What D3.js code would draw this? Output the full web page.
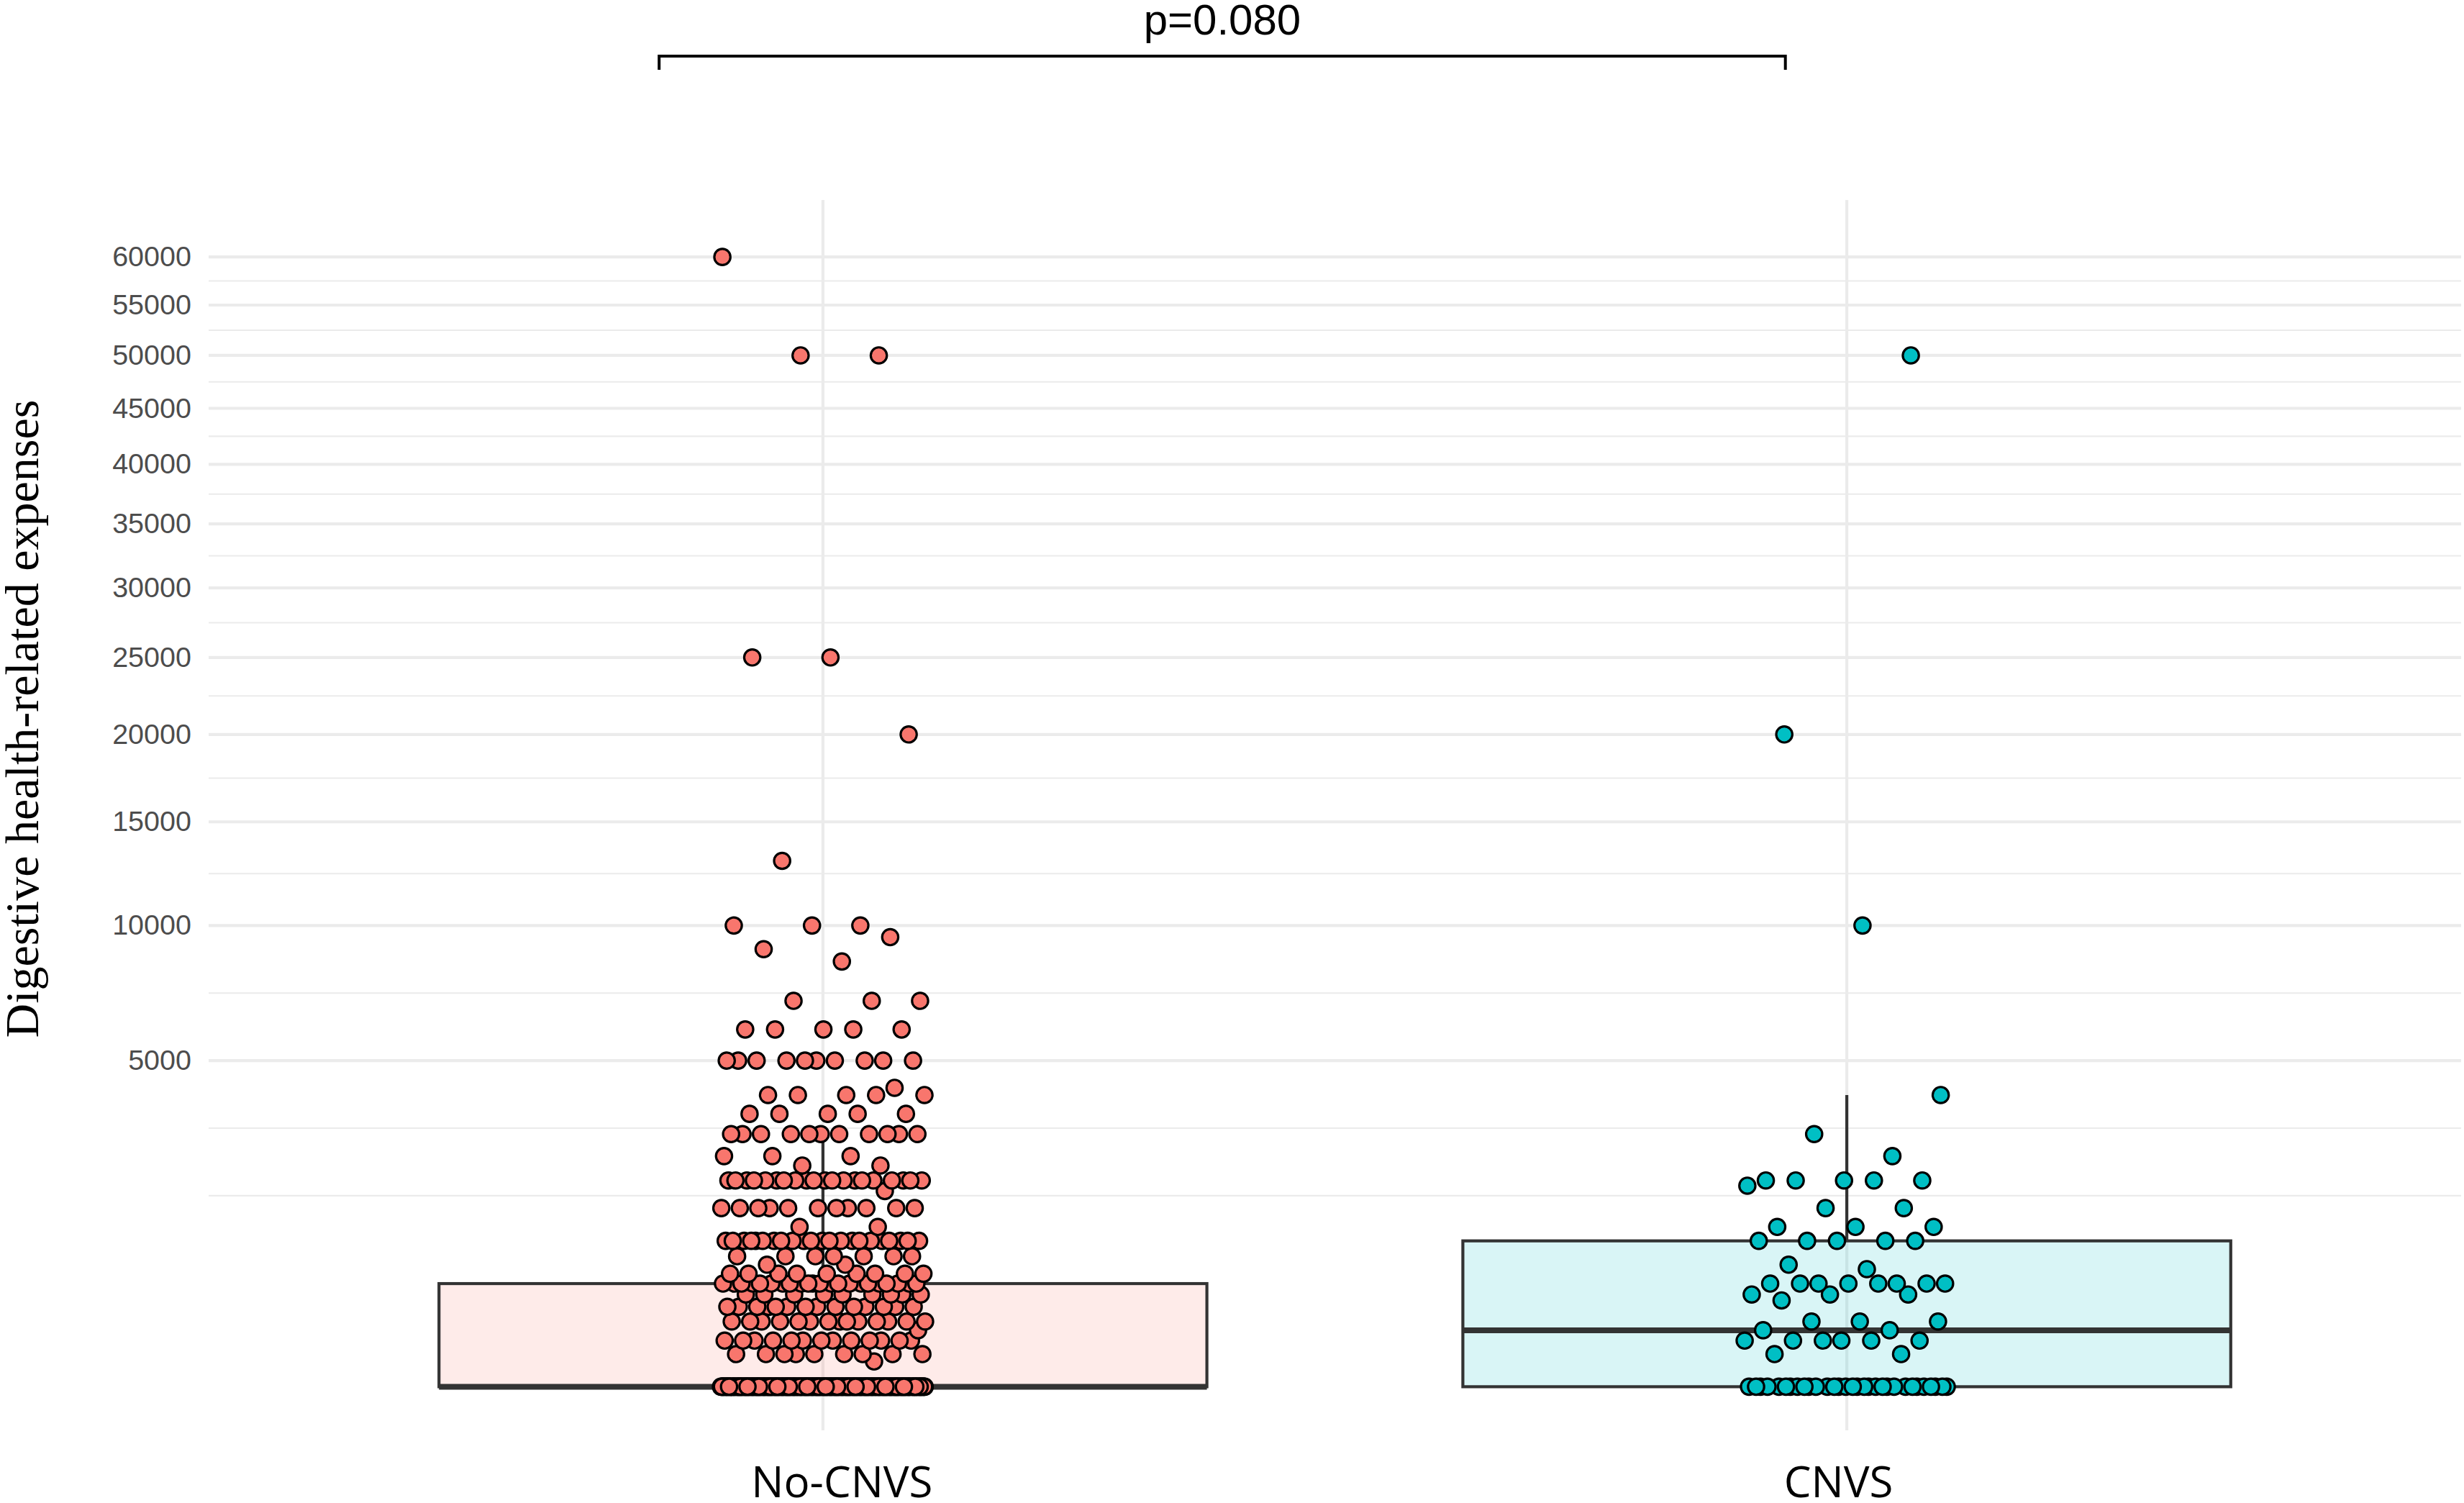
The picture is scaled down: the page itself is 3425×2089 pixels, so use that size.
<!DOCTYPE html>
<html>
<head>
<meta charset="utf-8">
<script src="https://cdn.jsdelivr.net/npm/d3@7"></script>
<style>
  body { margin: 0; background: #fff; }
  svg { display: block; }
</style>
</head>
<body>
<svg id="chart"></svg>
<script>
// Groups and colours
const groups = ["No-CNVS", "CNVS"];
const groupColors = ["#F8766D", "#00BFC4"];

// No-CNVS: expense levels read off the picture, and how many points sit on each
const noCnvsLevels = [0, 30, 50, 100, 150, 200, 300, 400, 500, 600,
    700, 800, 1000, 1200, 1500, 1800, 2000, 2300, 2500, 3000,
    3500, 4000, 4200, 5000, 6000, 7000, 8500, 9000, 9500, 10000,
    13000, 20000, 25000, 50000, 60000];
const noCnvsCounts = [340, 1, 9, 13, 1, 14, 14, 9, 22, 9,
    2, 7, 22, 2, 11, 1, 20, 2, 3, 11,
    5, 5, 1, 10, 5, 3, 1, 1, 1, 3,
    1, 1, 2, 2, 1];

// CNVS
const cnvsLevels = [0, 50, 100, 150, 200, 350, 400, 500, 650, 700,
    1000, 1200, 1500, 1900, 2000, 2500, 3000, 4000, 10000, 20000, 50000];
const cnvsCounts = [31, 2, 6, 2, 3, 1, 3, 8, 1, 1,
    5, 3, 2, 1, 5, 1, 1, 1, 1, 1, 1];

// Axis ticks and annotation
const yTicks = [5000, 10000, 15000, 20000, 25000, 30000, 35000, 40000, 45000, 50000, 55000, 60000];
const yTitle = "Digestive health-related expenses";
const pLabel = "p=0.080";
const bracketEnds = [0.84, 1.94]; // category units, 1 = No-CNVS, 2 = CNVS

// Sizes
const W = 3425, H = 2089;
const panel = { left: 290, right: 3421, top: 278, bottom: 1988 };

const svg = d3.select("#chart")
    .attr("width", W)
    .attr("height", H);

svg.append("rect").attr("width", W).attr("height", H).attr("fill", "#fff");

// Scales: discrete groups at 1 and 2 with 0.6 padding, sqrt y axis
const x = d3.scaleLinear()
    .domain([0.4, 2.6])
    .range([panel.left, panel.right]);

const sMax = Math.sqrt(d3.max(noCnvsLevels.concat(cnvsLevels)));
const padLow = 0.0386 * sMax, padHigh = 0.0504 * sMax;
const y = d3.scaleSqrt()
    .domain([-padLow * padLow, (sMax + padHigh) * (sMax + padHigh)])
    .range([panel.bottom, panel.top]);

// Expand level/count arrays into points
function expand(levels, counts, gi) {
    const pts = [];
    levels.forEach((v, i) => {
        for (let k = 0; k < counts[i]; k++) pts.push({ group: gi, value: v });
    });
    return pts;
}
const points = expand(noCnvsLevels, noCnvsCounts, 0)
    .concat(expand(cnvsLevels, cnvsCounts, 1));

// Deterministic jitter (golden ratio sequence), width 0.1 either side
const jitterWidth = 0.1;
const phi = 0.6180339887;
const seen = [0, 0];
points.forEach(p => {
    const n = ++seen[p.group];
    p.jx = ((n * phi + p.group * 0.37) % 1 * 2 - 1) * jitterWidth;
});

// Minor breaks in sqrt space, like ggplot's regular_minor_breaks
const bS = yTicks.map(Math.sqrt);
const bd = bS[1] - bS[0];
const ext = [bS[0] - bd].concat(bS, [bS[bS.length - 1] + bd]);
const minorS = [];
for (let i = 0; i < ext.length - 1; i++) minorS.push((ext[i] + ext[i + 1]) / 2);
minorS.push(ext[0]);

const grid = svg.append("g");
grid.selectAll("line.minor")
    .data(minorS.filter(s => y(s * s) > panel.top && y(s * s) < panel.bottom))
    .enter().append("line")
    .attr("class", "minor")
    .attr("x1", panel.left).attr("x2", panel.right)
    .attr("y1", s => y(s * s)).attr("y2", s => y(s * s))
    .attr("stroke", "#EBEBEB").attr("stroke-width", 2.1);

grid.selectAll("line.major")
    .data(yTicks)
    .enter().append("line")
    .attr("class", "major")
    .attr("x1", panel.left).attr("x2", panel.right)
    .attr("y1", d => y(d)).attr("y2", d => y(d))
    .attr("stroke", "#EBEBEB").attr("stroke-width", 4.2);

grid.selectAll("line.vmajor")
    .data([1, 2])
    .enter().append("line")
    .attr("class", "vmajor")
    .attr("x1", d => x(d)).attr("x2", d => x(d))
    .attr("y1", panel.top).attr("y2", panel.bottom)
    .attr("stroke", "#EBEBEB").attr("stroke-width", 4.2);

// Box statistics computed on the sqrt scale
const stats = groups.map((g, gi) => {
    const s = points.filter(p => p.group === gi).map(p => Math.sqrt(p.value)).sort(d3.ascending);
    const q1 = d3.quantile(s, 0.25), med = d3.quantile(s, 0.5), q3 = d3.quantile(s, 0.75);
    const iqr = q3 - q1;
    const hi = d3.max(s.filter(v => v <= q3 + 1.5 * iqr));
    const lo = d3.min(s.filter(v => v >= q1 - 1.5 * iqr));
    return { gi, q1: q1 * q1, med: med * med, q3: q3 * q3, hi: hi * hi, lo: lo * lo };
});

const boxHalf = 0.375;
const boxes = svg.append("g");

boxes.selectAll("line.whisker-hi")
    .data(stats)
    .enter().append("line")
    .attr("x1", d => x(d.gi + 1)).attr("x2", d => x(d.gi + 1))
    .attr("y1", d => y(d.q3)).attr("y2", d => y(d.hi))
    .attr("stroke", "#333333").attr("stroke-width", 4.2);

boxes.selectAll("line.whisker-lo")
    .data(stats.filter(d => d.lo < d.q1))
    .enter().append("line")
    .attr("x1", d => x(d.gi + 1)).attr("x2", d => x(d.gi + 1))
    .attr("y1", d => y(d.q1)).attr("y2", d => y(d.lo))
    .attr("stroke", "#333333").attr("stroke-width", 4.2);

boxes.selectAll("rect")
    .data(stats)
    .enter().append("rect")
    .attr("x", d => x(d.gi + 1 - boxHalf))
    .attr("width", d => x(d.gi + 1 + boxHalf) - x(d.gi + 1 - boxHalf))
    .attr("y", d => y(d.q3))
    .attr("height", d => y(d.q1) - y(d.q3))
    .attr("fill", d => groupColors[d.gi])
    .attr("fill-opacity", 0.15)
    .attr("stroke", "#333333")
    .attr("stroke-width", 4.2);

boxes.selectAll("line.median")
    .data(stats)
    .enter().append("line")
    .attr("x1", d => x(d.gi + 1 - boxHalf)).attr("x2", d => x(d.gi + 1 + boxHalf))
    .attr("y1", d => y(d.med)).attr("y2", d => y(d.med))
    .attr("stroke", "#333333").attr("stroke-width", 8);

// Jittered points
svg.append("g")
    .selectAll("circle")
    .data(points)
    .enter().append("circle")
    .attr("cx", d => x(d.group + 1 + d.jx))
    .attr("cy", d => y(d.value))
    .attr("r", 11.2)
    .attr("fill", d => groupColors[d.group])
    .attr("stroke", "#000")
    .attr("stroke-width", 3.2);

// Y axis labels
const yAxis = svg.append("g")
    .attr("transform", `translate(${panel.left},0)`)
    .call(d3.axisLeft(y).tickValues(yTicks).tickSize(0).tickPadding(24).tickFormat(d3.format("d")));
yAxis.select(".domain").remove();
yAxis.selectAll("text")
    .attr("fill", "#4D4D4D")
    .style("font-family", "'Liberation Sans', Arial, sans-serif")
    .style("font-size", "39.5px");

// X axis labels
const labelShift = [26, -12];
const xAxis = svg.append("g")
    .attr("transform", `translate(0,${panel.bottom})`)
    .call(d3.axisBottom(x).tickValues([1, 2]).tickSize(0).tickPadding(50).tickFormat(d => groups[d - 1]));
xAxis.select(".domain").remove();
xAxis.selectAll("text")
    .attr("fill", "#000")
    .attr("dx", (d, i) => labelShift[i])
    .style("font-family", "'Open Sans', 'Noto Sans', sans-serif")
    .style("font-size", "60px");

// Y title
svg.append("text")
    .attr("transform", "translate(53,999) rotate(-90)")
    .attr("text-anchor", "middle")
    .style("font-family", "'Liberation Serif', 'Times New Roman', serif")
    .style("font-size", "66px")
    .attr("fill", "#000")
    .text(yTitle);

// Significance bracket
const bx0 = x(bracketEnds[0]), bx1 = x(bracketEnds[1]);
svg.append("path")
    .attr("d", `M${bx0},97 V78 H${bx1} V97`)
    .attr("fill", "none")
    .attr("stroke", "#000")
    .attr("stroke-width", 4);

svg.append("text")
    .attr("x", (bx0 + bx1) / 2)
    .attr("y", 48)
    .attr("text-anchor", "middle")
    .style("font-family", "'Liberation Sans', Arial, sans-serif")
    .style("font-size", "60px")
    .attr("fill", "#000")
    .text(pLabel);
</script>
</body>
</html>
